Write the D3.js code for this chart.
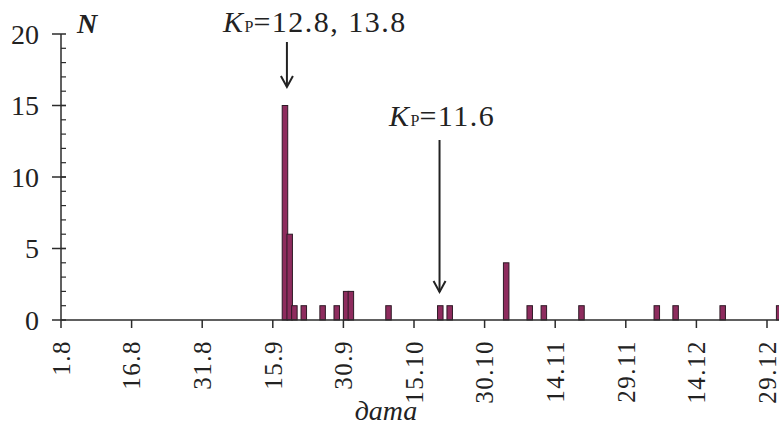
<!DOCTYPE html>
<html>
<head>
<meta charset="utf-8">
<script src="https://cdn.jsdelivr.net/npm/d3@7"></script>
<style>
  html, body { margin: 0; padding: 0; background: #fff; }
  svg { display: block; }
  text { font-family: "Liberation Serif", "Times New Roman", serif; fill: #222; }
</style>
</head>
<body>
<svg id="chart" width="779" height="434"></svg>
<script>
// event dates (day.month) and number of events per day
var dates  = ["17.9","18.9","19.9","21.9","25.9","28.9","30.9","1.10","9.10","20.10","22.10",
              "3.11","8.11","11.11","19.11","5.12","9.12","19.12","31.12"];
var counts = [15, 6, 1, 1, 1, 1, 2, 2, 1, 1, 1, 4, 1, 1, 1, 1, 1, 1, 1];

var xTickLabels = ["1.8","16.8","31.8","15.9","30.9","15.10","30.10","14.11","29.11","14.12","29.12"];
var yTickLabels = [0, 5, 10, 15, 20];

// annotations: label value + the date the arrow points at
var notes = [
  {value: "=12.8, 13.8", date: "18.9",  tx: 223, ty: 32,  y1: 42,  y2: 87},
  {value: "=11.6",       date: "20.10", tx: 389, ty: 126, y1: 140, y2: 292}
];

function parseDM(s){
  var p = s.split(".").map(Number);
  return new Date(Date.UTC(2001, p[1]-1, p[0]));
}

var svg = d3.select("#chart");
var x0 = 61, y0 = 320;

var x = d3.scaleUtc()
  .domain([parseDM("1.8"), parseDM("29.12")])
  .range([x0, 767]);
var y = d3.scaleLinear().domain([0, 20]).range([y0, 34]);

var axisColor = "#2b2b2b";

// bars, one day wide
var bars = dates.map(function(d, i){ return {date: parseDM(d), n: counts[i]}; });
svg.append("g").selectAll("rect")
  .data(bars)
  .enter().append("rect")
  .attr("x", function(d){ return x(d.date); })
  .attr("width", function(d){ return x(d3.utcDay.offset(d.date, 1)) - x(d.date) + 0.8; })
  .attr("y", function(d){ return y(d.n); })
  .attr("height", function(d){ return y0 - y(d.n); })
  .style("fill", "#8e2c5e")
  .style("stroke", "#2e1a26")
  .style("stroke-width", 1);

// y axis
var ya = svg.append("g");
ya.append("line").attr("x1", x0).attr("x2", x0).attr("y1", y(20)).attr("y2", y0)
  .style("stroke", axisColor).style("stroke-width", 1.5);
ya.selectAll("line.minor").data(d3.range(1, 20)).enter().append("line")
  .attr("class", "minor")
  .attr("x1", x0).attr("x2", x0 + 5)
  .attr("y1", function(d){ return y(d); }).attr("y2", function(d){ return y(d); })
  .style("stroke", axisColor).style("stroke-width", 1.2);
ya.selectAll("line.major").data(yTickLabels).enter().append("line")
  .attr("class", "major")
  .attr("x1", x0 - 9).attr("x2", x0 + 5)
  .attr("y1", function(d){ return y(d); }).attr("y2", function(d){ return y(d); })
  .style("stroke", axisColor).style("stroke-width", 1.5);
ya.selectAll("text").data(yTickLabels).enter().append("text")
  .attr("x", 39).attr("y", function(d){ return y(d); })
  .attr("dy", "0.35em")
  .attr("text-anchor", "end")
  .style("font-size", "28px")
  .text(function(d){ return d; });

svg.append("text").attr("x", 77).attr("y", 33)
  .style("font-size", "28px").style("font-style", "italic").style("font-weight", "bold")
  .text("N");

// x axis
var xa = svg.append("g");
xa.append("line").attr("x1", x0).attr("x2", 779).attr("y1", y0).attr("y2", y0)
  .style("stroke", axisColor).style("stroke-width", 1.5);
var xt = xTickLabels.map(parseDM);
xa.selectAll("line.tick").data(xt).enter().append("line")
  .attr("class", "tick")
  .attr("x1", function(d){ return x(d); }).attr("x2", function(d){ return x(d); })
  .attr("y1", y0).attr("y2", y0 + 8)
  .style("stroke", axisColor).style("stroke-width", 1.5);
xa.selectAll("text").data(xTickLabels).enter().append("text")
  .attr("transform", function(d){ return "translate(" + x(parseDM(d)) + ",340) rotate(-90)"; })
  .attr("dy", "0.35em")
  .attr("text-anchor", "end")
  .style("font-size", "25px")
  .style("letter-spacing", "1.5px")
  .text(function(d){ return d; });

svg.append("text").attr("x", 386).attr("y", 420)
  .attr("text-anchor", "middle")
  .style("font-size", "28px").style("font-style", "italic")
  .text("дата");

// annotations with arrows
notes.forEach(function(n){
  var t = svg.append("text").attr("x", n.tx).attr("y", n.ty)
    .style("font-size", "30px").style("letter-spacing", "1.5px");
  t.append("tspan").style("font-style", "italic").text("K");
  t.append("tspan").style("font-size", "16px").style("letter-spacing", "0px").text("P");
  t.append("tspan").text(n.value);
  var d = parseDM(n.date);
  var ax = n.date === "20.10" ? x(d) + 2 : x(d);
  svg.append("line").attr("x1", ax).attr("x2", ax).attr("y1", n.y1).attr("y2", n.y2)
    .style("stroke", "#222").style("stroke-width", 2);
  svg.append("path")
    .attr("d", "M" + (ax - 6) + "," + (n.y2 - 11) + "L" + ax + "," + n.y2 + "L" + (ax + 6) + "," + (n.y2 - 11))
    .style("fill", "none").style("stroke", "#222").style("stroke-width", 2);
});
</script>
</body>
</html>
